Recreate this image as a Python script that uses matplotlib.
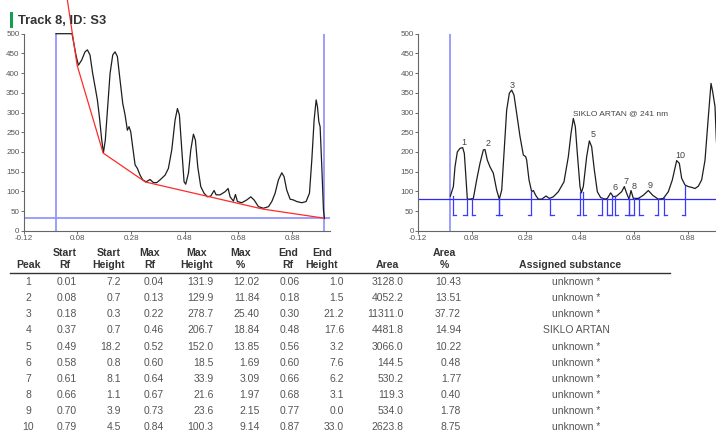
import matplotlib
matplotlib.use("Agg")
import matplotlib.pyplot as plt
from matplotlib.patches import Rectangle
from matplotlib.lines import Line2D

# --- scanned densitogram (raw) ---
raw_rf = [0.0, 0.06, 0.075, 0.0837, 0.096, 0.1086, 0.1173, 0.127, 0.137, 0.146, 0.1545, 0.162,
          0.1707, 0.177, 0.184, 0.192, 0.2017, 0.2117, 0.2204, 0.229, 0.239, 0.249, 0.2576,
          0.2663, 0.2725, 0.2788, 0.286, 0.295, 0.3036, 0.3135, 0.3235, 0.336, 0.3508, 0.3632,
          0.3757, 0.388, 0.4067, 0.419, 0.4316, 0.444, 0.4527, 0.46, 0.469, 0.4775, 0.4837,
          0.4937, 0.5024, 0.5123, 0.5197, 0.5285, 0.5396, 0.552, 0.5645, 0.577, 0.5893, 0.5968,
          0.6117, 0.6303, 0.6415, 0.649, 0.6614, 0.6688, 0.6763, 0.6924, 0.711, 0.726, 0.7384,
          0.7545, 0.773, 0.7918, 0.8043, 0.8166, 0.829, 0.8415, 0.85, 0.86, 0.8725, 0.885,
          0.8974, 0.916, 0.932, 0.9446, 0.9533, 0.962, 0.9695, 0.9744, 0.9794, 0.9843, 0.9906,
          0.9968, 1.0005]
raw_val = [500, 500, 445, 420, 433, 454, 459, 446, 399, 365, 332, 289,
           230, 198, 230, 306, 399, 446, 454, 442, 382, 323, 294,
           255, 264, 251, 213, 167, 158, 141, 129, 124, 130, 122,
           122, 129, 141, 158, 205, 281, 310, 294, 205, 124, 118,
           146, 205, 245, 230, 162, 112, 95, 86, 88, 102, 91,
           91, 99, 107, 86, 75, 92, 74, 71, 78, 86, 78,
           61, 57, 61, 74, 95, 129, 147, 137, 103, 80, 78,
           74, 71, 74, 95, 179, 281, 332, 315, 277, 264, 162,
           52, 31]

# fitted baseline
base_rf = [0.0, 0.079, 0.176, 0.3335, 0.77, 0.997]
base_val = [780, 420, 197, 123.6, 55, 32]

# --- baseline corrected track (offset 80) ---
cor_rf = [0.0, 0.011, 0.017, 0.0257, 0.0356, 0.0454, 0.0516, 0.0565, 0.0627, 0.0726, 0.085,
          0.0973, 0.1096, 0.122, 0.1281, 0.1368, 0.1467, 0.159, 0.1714, 0.1812, 0.19, 0.1985,
          0.2084, 0.2183, 0.2269, 0.2356, 0.2454, 0.2578, 0.2701, 0.2788, 0.2825, 0.2911, 0.301,
          0.3072, 0.3158, 0.3257, 0.338, 0.3541, 0.3664, 0.3812, 0.3998, 0.4207, 0.4368, 0.4467,
          0.4553, 0.4627, 0.4701, 0.48, 0.4849, 0.4923, 0.5047, 0.5146, 0.5232, 0.5331, 0.5442,
          0.5565, 0.5726, 0.5812, 0.5936, 0.6035, 0.6158, 0.6343, 0.6442, 0.6528, 0.6615, 0.6689,
          0.6775, 0.696, 0.7146, 0.7331, 0.7491, 0.7701, 0.7886, 0.8072, 0.822, 0.838, 0.8479,
          0.8565, 0.8689, 0.8812, 0.8936, 0.9059, 0.9183, 0.9306, 0.943, 0.9553, 0.9652, 0.9714,
          0.98, 0.985, 0.992]
cor_val = [88, 112, 162, 200, 209, 211, 196, 146, 80, 80, 82,
           129, 171, 205, 206, 179, 162, 146, 103, 80, 103, 196,
           306, 349, 357, 344, 298, 239, 192, 188, 179, 129, 99,
           102, 90, 80, 80, 88, 82, 86, 99, 124, 188, 247,
           285, 264, 196, 112, 96, 112, 188, 228, 213, 154, 99,
           84, 80, 82, 96, 86, 88, 99, 112, 95, 80, 102,
           82, 82, 90, 102, 90, 80, 82, 99, 129, 178, 171,
           133, 116, 112, 110, 107, 113, 129, 179, 289, 374, 353,
           315, 230, 170]

# --- peak table ---
peak_no = [1, 2, 3, 4, 5, 6, 7, 8, 9, 10]
start_rf = [0.01, 0.08, 0.18, 0.37, 0.49, 0.58, 0.61, 0.66, 0.70, 0.79]
start_h = [7.2, 0.7, 0.3, 0.7, 18.2, 0.8, 8.1, 1.1, 3.9, 4.5]
max_rf = [0.04, 0.13, 0.22, 0.46, 0.52, 0.60, 0.64, 0.67, 0.73, 0.84]
max_h = [131.9, 129.9, 278.7, 206.7, 152.0, 18.5, 33.9, 21.6, 23.6, 100.3]
max_pct = [12.02, 11.84, 25.40, 18.84, 13.85, 1.69, 3.09, 1.97, 2.15, 9.14]
end_rf = [0.06, 0.18, 0.30, 0.48, 0.56, 0.60, 0.66, 0.68, 0.77, 0.87]
end_h = [1.0, 1.5, 21.2, 17.6, 3.2, 7.6, 6.2, 3.1, 0.0, 33.0]
area = [3128.0, 4052.2, 11311.0, 4481.8, 3066.0, 144.5, 530.2, 119.3, 534.0, 2623.8]
area_pct = [10.43, 13.51, 37.72, 14.94, 10.22, 0.48, 1.77, 0.40, 1.78, 8.75]
substance = ["unknown *", "unknown *", "unknown *", "SIKLO ARTAN", "unknown *",
             "unknown *", "unknown *", "unknown *", "unknown *", "unknown *"]

xticks = [-0.12, 0.08, 0.28, 0.48, 0.68, 0.88]
yticks = list(range(0, 501, 50))

plt.rcParams["font.family"] = ["Liberation Sans", "DejaVu Sans"]

W, H = 716, 434
fig = plt.figure(figsize=(W / 100, H / 100), dpi=100, facecolor="white")


def fx(x):
    return x / W


def fy(y):
    return 1 - y / H


def style_axes(ax):
    ax.set_xlim(-0.12, 1.02)
    ax.set_ylim(0, 500)
    ax.set_xticks(xticks)
    ax.set_xticklabels(["%.2f" % t for t in xticks])
    ax.set_yticks(yticks)
    for s in ["top", "right"]:
        ax.spines[s].set_visible(False)
    for s in ["left", "bottom"]:
        ax.spines[s].set_color("#666666")
        ax.spines[s].set_linewidth(0.8)
    ax.tick_params(labelsize=5.8, colors="#555555", length=2, width=0.6, pad=1)
    ax.set_facecolor("none")


# left panel: raw scan with baseline
axL = fig.add_axes([fx(23.7), fy(230.7), fx(306), (230.7 - 33.7) / H])
style_axes(axL)
axL.axvline(0.0, color="#8c8cff", lw=1.2)
axL.axvline(1.0, color="#8c8cff", lw=1.2)
axL.axhline(32, color="#8c8cff", lw=1.2)
axL.plot(raw_rf, raw_val, color="#1e1e1e", lw=0.9, clip_on=False)
axL.plot(base_rf, base_val, color="#ff2a2a", lw=0.9, clip_on=False, zorder=5)

# right panel: corrected track with peak marks
axR = fig.add_axes([fx(418), fy(230.7), fx(307.8), (230.7 - 33.7) / H])
style_axes(axR)
axR.axvline(0.0, color="#8c8cff", lw=1.2)
axR.axhline(80, color="#2a2aff", lw=0.9)
axR.plot(cor_rf, cor_val, color="#1e1e1e", lw=0.9)
for i in range(len(peak_no)):
    s, e = start_rf[i], end_rf[i]
    axR.plot([s, s], [40, 80 + start_h[i]], color="#3a3aff", lw=0.9)
    axR.plot([s, s + 0.012], [40, 40], color="#3a3aff", lw=0.9)
    axR.plot([e, e], [40, 80 + end_h[i]], color="#3a3aff", lw=0.9)
    axR.plot([e - 0.012, e], [40, 40], color="#3a3aff", lw=0.9)
    if substance[i] != "unknown *":
        axR.text(max_rf[i] - 0.005, 80 + max_h[i] + 11, substance[i] + " @ 241 nm",
                 fontsize=6, color="#444444", ha="left", va="center")
    else:
        axR.text(max_rf[i] + 0.01, 80 + max_h[i] + 11, str(peak_no[i]),
                 fontsize=6.5, color="#444444", ha="center", va="center")

# title with green marker
fig.patches.append(Rectangle((fx(10), fy(28)), fx(3), 16 / H, transform=fig.transFigure,
                             facecolor="#14a04c", edgecolor="none"))
fig.text(fx(18), fy(21), "Track 8, ID: S3", fontsize=9.3, fontweight="bold",
         color="#333333", ha="left", va="center")

# table header
hdr_col = "#333333"
headers = [(28.3, "", "Peak"), (65, "Start", "Rf"), (109, "Start", "Height"),
           (149.5, "Max", "Rf"), (196.7, "Max", "Height"), (240.5, "Max", "%"),
           (288, "End", "Rf"), (321.7, "End", "Height"), (387.5, "", "Area"),
           (444.3, "Area", "%"), (570, "", "Assigned substance")]
for x, l1, l2 in headers:
    if l1:
        fig.text(fx(x), fy(253), l1, fontsize=7.6, fontweight="bold", color=hdr_col,
                 ha="center", va="center")
    fig.text(fx(x), fy(265.5), l2, fontsize=7.6, fontweight="bold", color=hdr_col,
             ha="center", va="center")
fig.add_artist(Line2D([fx(10), fx(670)], [fy(272.5), fy(272.5)], color="#333333", lw=1.0))

# table rows
txt_col = "#555555"
for i in range(len(peak_no)):
    y = fy(282 + i * 16.15)
    cells = [(28.3, str(peak_no[i]), "center"),
             (77, "%.2f" % start_rf[i], "right"),
             (121, "%.1f" % start_h[i], "right"),
             (164, "%.2f" % max_rf[i], "right"),
             (213.5, "%.1f" % max_h[i], "right"),
             (259.5, "%.2f" % max_pct[i], "right"),
             (299.5, "%.2f" % end_rf[i], "right"),
             (344, "%.1f" % end_h[i], "right"),
             (403.5, "%.1f" % area[i], "right"),
             (461, "%.2f" % area_pct[i], "right"),
             (576, substance[i], "center")]
    for x, t, ha in cells:
        fig.text(fx(x), y, t, fontsize=7.5, color=txt_col, ha=ha, va="center")

fig.savefig("out.png", dpi=100)
